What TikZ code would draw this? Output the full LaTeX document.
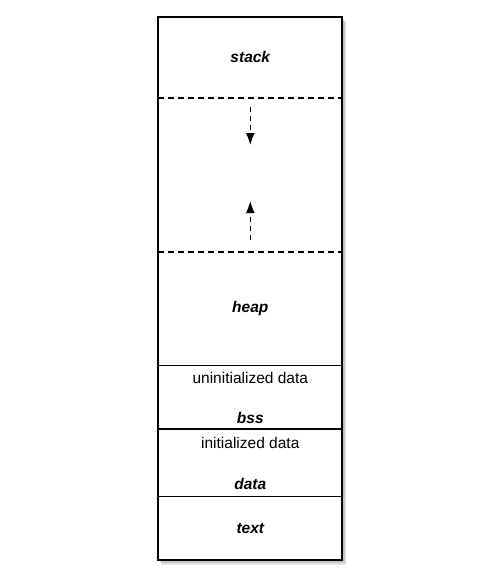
\documentclass[tikz,border=0pt]{standalone}
\usepackage{fontspec}
\setmainfont{Liberation Sans}
\usetikzlibrary{positioning,arrows.meta,backgrounds}

\tikzstyle{region}=[rectangle,minimum width=184pt,inner sep=0pt,outer sep=0pt,font=\fontsize{15.5}{18}\selectfont\bfseries\itshape]
\tikzstyle{caption}=[inner sep=0pt,font=\fontsize{15.5}{18}\selectfont]
\tikzstyle{segname}=[inner sep=0pt,font=\fontsize{15.5}{18}\selectfont\bfseries\itshape]
\tikzstyle{frame}=[draw=black,line width=1.8pt]
\tikzstyle{divider}=[draw=black,line width=1.5pt]
\tikzstyle{dashdivider}=[draw=black,line width=1.3pt,dash pattern=on 6pt off 4pt]
\tikzstyle{growarrow}=[line width=1.4pt,dash pattern=on 5pt off 4pt,-{Latex[length=12pt,width=9pt]}]

\begin{document}
\begin{tikzpicture}[x=1pt,y=-1pt]
    \useasboundingbox (0,0) rectangle (500,575);
    \node [region,minimum height=81.3pt,anchor=north west] (stack) at (158.3,16.7) {stack};
    \node [region,minimum height=154pt,below=0pt of stack] (gap) {};
    \node [region,minimum height=113.7pt,below=0pt of gap] (heap) {\raisebox{3pt}{heap}};
    \node [region,minimum height=63.3pt,below=0pt of heap] (bss) {};
    \node [region,minimum height=67.7pt,below=0pt of bss] (data) {};
    \node [region,minimum height=63.3pt,below=0pt of data] (text) {text};
    % soft shadow of the frame
    \begin{scope}[on background layer]
      \foreach \s in {1,2,3,4,5}
        \fill [black,opacity=.07] ([xshift=\s*0.8pt-1pt,yshift=-\s*1pt]stack.north west)
          rectangle ([xshift=\s*0.8pt,yshift=-\s*1pt]text.south east);
      \fill [white] (stack.north west) rectangle (text.south east);
    \end{scope}
    \draw [frame] (stack.north west) rectangle (text.south east);
    % labels of the two data parts
    \node [caption,below=6pt of bss.north] (bsstop) {uninitialized data};
    \node [segname,above=5pt of bss.south] (bssname) {bss};
    \node [caption,below=8pt of data.north] (datatop) {initialized data};
    \node [segname,above=7pt of data.south] (dataname) {data};
    % dividers
    \draw [dashdivider] (stack.south west) -- (stack.south east);
    \draw [dashdivider] (gap.south west) -- (gap.south east);
    \draw [divider] (heap.south west) -- (heap.south east);
    \draw [divider] (bss.south west) -- (bss.south east);
    \draw [divider] (data.south west) -- (data.south east);
    % growth arrows
    \coordinate (downstart) at ([yshift=-9pt]gap.north);
    \coordinate (downend) at ([yshift=-47pt]gap.north);
    \coordinate (upstart) at ([yshift=12pt]gap.south);
    \coordinate (upend) at ([yshift=51pt]gap.south);
    \draw [growarrow] (downstart) -- (downend);
    \draw [growarrow] (upstart) -- (upend);
\end{tikzpicture}
\end{document}
